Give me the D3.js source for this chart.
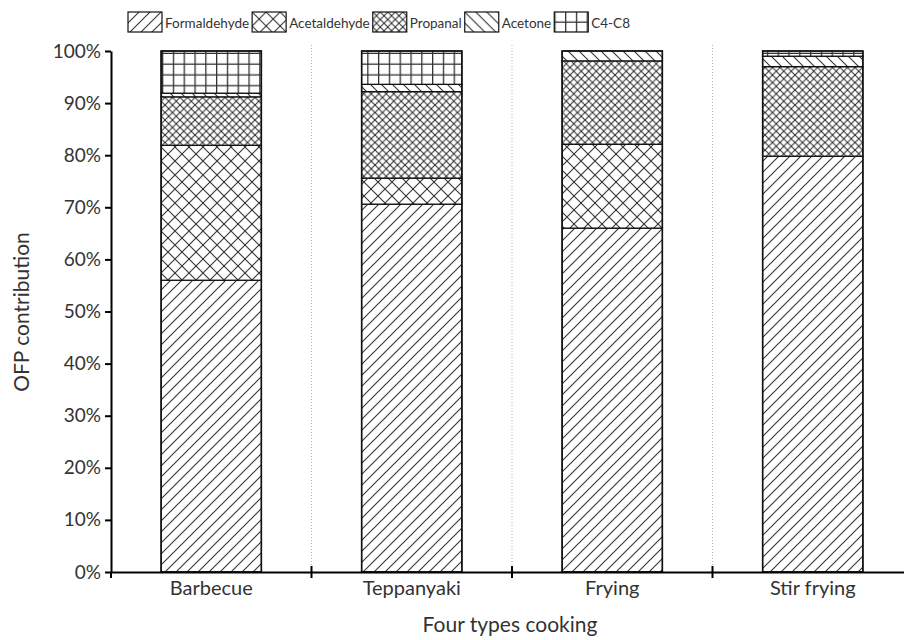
<!DOCTYPE html>
<html>
<head>
<meta charset="utf-8">
<script src="https://cdn.jsdelivr.net/npm/d3@7"></script>
<style>
  body { margin: 0; background: #fff; }
  text { font-family: Lato, "Open Sans", sans-serif; fill: #333; }
</style>
</head>
<body>
<div id="chart"></div>
<script>
var categories = ["Barbecue", "Teppanyaki", "Frying", "Stir frying"]
var seriesNames = ["Formaldehyde", "Acetaldehyde", "Propanal", "Acetone", "C4-C8"]
var formaldehyde = [56.0, 70.6, 66.0, 79.8]
var acetaldehyde = [25.9, 5.0, 16.1, 0.0]
var propanal = [9.3, 16.6, 16.0, 17.2]
var acetone = [0.7, 1.4, 1.9, 2.0]
var c4c8 = [8.1, 6.4, 0.0, 1.0]
var yTicks = [0, 10, 20, 30, 40, 50, 60, 70, 80, 90, 100]

var width = 904
var height = 640
var margin = {left: 111, right: -9, top: 51, bottom: 68}

var table = categories.map(function(c, i) {
  return {
    cat: c,
    "Formaldehyde": formaldehyde[i],
    "Acetaldehyde": acetaldehyde[i],
    "Propanal": propanal[i],
    "Acetone": acetone[i],
    "C4-C8": c4c8[i]
  }
})

var svg = d3.select("#chart").append("svg")
  .attr("width", width)
  .attr("height", height)

var defs = svg.append("defs")

function hatch(id, size, paths, sw) {
  var p = defs.append("pattern")
    .attr("id", id)
    .attr("patternUnits", "userSpaceOnUse")
    .attr("width", size)
    .attr("height", size)
  p.append("rect").attr("width", size).attr("height", size).attr("fill", "#fff")
  paths.forEach(function(d) {
    p.append("path").attr("d", d)
      .attr("stroke", "#333")
      .attr("stroke-width", sw)
      .attr("fill", "none")
  })
}

var s1 = 11
hatch("p0", s1, ["M0," + s1 + "L" + s1 + ",0", "M-2,2L2,-2", "M" + (s1 - 2) + "," + (s1 + 2) + "L" + (s1 + 2) + "," + (s1 - 2)], 1.1)
var s2 = 14
hatch("p1", s2, ["M0," + s2 + "L" + s2 + ",0", "M0,0L" + s2 + "," + s2, "M-2,2L2,-2", "M" + (s2 - 2) + "," + (s2 + 2) + "L" + (s2 + 2) + "," + (s2 - 2), "M-2," + (s2 - 2) + "L2," + (s2 + 2), "M" + (s2 - 2) + ",-2L" + (s2 + 2) + ",2"], 1.1)
var s3 = 7.5
hatch("p2", s3, ["M0," + s3 + "L" + s3 + ",0", "M0,0L" + s3 + "," + s3, "M-2,2L2,-2", "M" + (s3 - 2) + "," + (s3 + 2) + "L" + (s3 + 2) + "," + (s3 - 2), "M-2," + (s3 - 2) + "L2," + (s3 + 2), "M" + (s3 - 2) + ",-2L" + (s3 + 2) + ",2"], 1.1)
var s4 = 11
hatch("p3", s4, ["M0,0L" + s4 + "," + s4, "M-2," + (s4 - 2) + "L2," + (s4 + 2), "M" + (s4 - 2) + ",-2L" + (s4 + 2) + ",2"], 1.1)
var s5 = 10.8
hatch("p4", s5, ["M0.5,0V" + s5, "M0," + (s5 - 0.5) + "H" + s5], 1.6)

var x = d3.scaleBand()
  .domain(categories)
  .range([margin.left, width - margin.right])
  .padding(0)

var y = d3.scaleLinear()
  .domain([0, 100])
  .range([height - margin.bottom, margin.top])

var color = d3.scaleOrdinal()
  .domain(seriesNames)
  .range(["url(#p0)", "url(#p1)", "url(#p2)", "url(#p3)", "url(#p4)"])

// dotted separators
svg.append("g")
  .selectAll("line")
  .data(categories.slice(1))
  .enter().append("line")
  .attr("x1", function(d) { return x(d) })
  .attr("x2", function(d) { return x(d) })
  .attr("y1", y(100) - 6)
  .attr("y2", y(0))
  .attr("stroke", "#b5b5b5")
  .attr("stroke-width", 1)
  .attr("stroke-dasharray", "1,2")

var stacked = d3.stack().keys(seriesNames)(table)
var bw = x.bandwidth() * 0.5

var layer = svg.append("g")
  .selectAll("g")
  .data(stacked)
  .enter().append("g")
  .attr("fill", function(d) { return color(d.key) })

layer.selectAll("rect")
  .data(function(d) { return d })
  .enter().append("rect")
  .attr("x", function(d) { return x(d.data.cat) + (x.bandwidth() - bw) / 2 })
  .attr("y", function(d) { return y(d[1]) })
  .attr("width", bw)
  .attr("height", function(d) { return y(d[0]) - y(d[1]) })
  .attr("stroke", function(d) { return d[1] - d[0] > 0 ? "#111" : "none" })
  .attr("stroke-width", 1.3)

// bar outline
svg.append("g")
  .selectAll("rect")
  .data(table)
  .enter().append("rect")
  .attr("x", function(d) { return x(d.cat) + (x.bandwidth() - bw) / 2 })
  .attr("y", y(100))
  .attr("width", bw)
  .attr("height", y(0) - y(100))
  .attr("fill", "none")
  .attr("stroke", "#111")
  .attr("stroke-width", 1.5)

var yAxis = svg.append("g")
  .attr("transform", "translate(" + margin.left + ",0)")
  .call(d3.axisLeft(y)
    .tickValues(yTicks)
    .tickSize(6)
    .tickSizeOuter(0)
    .tickPadding(4)
    .tickFormat(function(d) { return d + "%" }))
yAxis.select(".domain").attr("stroke", "#000").attr("stroke-width", 2)
yAxis.selectAll(".tick line").attr("stroke", "#000").attr("stroke-width", 2)
yAxis.selectAll("text").style("font-size", "19px").attr("fill", "#3c3c3c")

var xAxis = svg.append("g")
  .attr("transform", "translate(0," + y(0) + ")")
  .call(d3.axisBottom(x).tickSize(0).tickSizeOuter(0).tickPadding(9))
xAxis.select(".domain").attr("stroke", "#000").attr("stroke-width", 2)
xAxis.selectAll("text").style("font-size", "20px").attr("fill", "#3c3c3c")

svg.append("g")
  .selectAll("line")
  .data(categories)
  .enter().append("line")
  .attr("x1", function(d) { return x(d) })
  .attr("x2", function(d) { return x(d) })
  .attr("y1", function(d, i) { return i == 0 ? y(0) : y(0) - 6 })
  .attr("y2", y(0) + 6)
  .attr("stroke", "#000")
  .attr("stroke-width", 2)

svg.append("text")
  .attr("x", 510)
  .attr("y", 632)
  .attr("text-anchor", "middle")
  .style("font-size", "21px")
  .text("Four types cooking")

svg.append("text")
  .attr("transform", "translate(29,312) rotate(-90)")
  .attr("text-anchor", "middle")
  .style("font-size", "21px")
  .text("OFP contribution")

// legend
var lx = 128
seriesNames.forEach(function(name) {
  var g = svg.append("g").attr("transform", "translate(" + lx + ",12)")
  g.append("rect")
    .attr("width", 34)
    .attr("height", 20)
    .attr("fill", color(name))
    .attr("stroke", "#111")
    .attr("stroke-width", 1.2)
  var t = g.append("text")
    .attr("x", 37)
    .attr("y", 16)
    .style("font-size", "13.5px")
    .text(name)
  lx += 37 + t.node().getComputedTextLength() + 3
})
</script>
</body>
</html>
